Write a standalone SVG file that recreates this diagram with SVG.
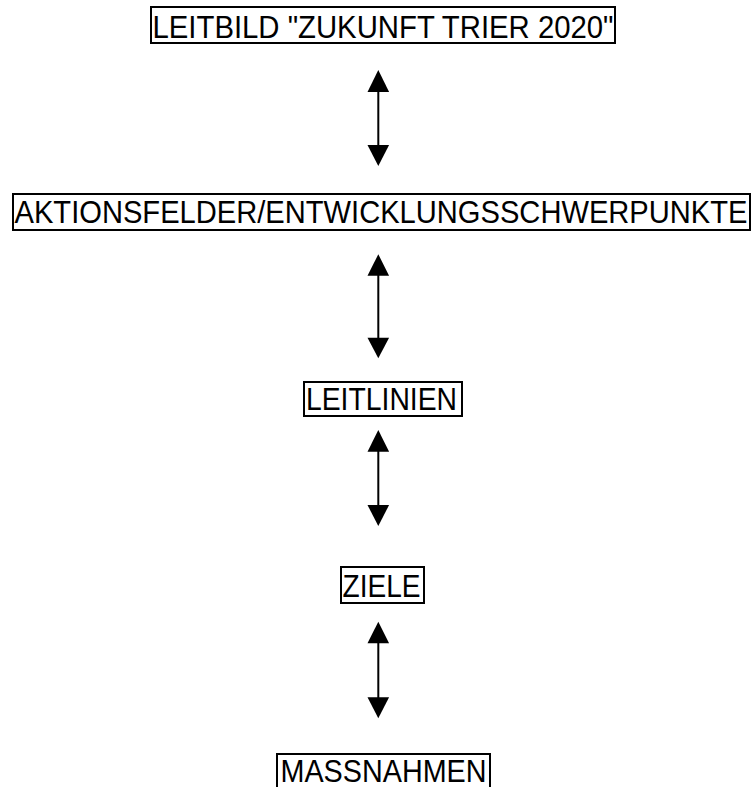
<svg xmlns="http://www.w3.org/2000/svg" width="752" height="787" viewBox="0 0 752 787">
<style>
.box{fill:#fff;stroke:#000;stroke-width:2}
.t{font-family:"Liberation Sans",Arial,sans-serif;font-size:32px;fill:#000}
.ln{stroke:#000;stroke-width:2;fill:none}
.hd{fill:#000}
</style>
<rect width="752" height="787" fill="#fff"/>
<g id="leitbild">
<rect class="box" x="151" y="7" width="464" height="36"/>
<text class="t" x="152.5" y="37.5" textLength="461" lengthAdjust="spacingAndGlyphs">LEITBILD "ZUKUNFT TRIER 2020"</text>
</g>
<g id="aktionsfelder">
<rect class="box" x="13" y="194" width="737" height="36"/>
<text class="t" x="14.5" y="223" textLength="733" lengthAdjust="spacingAndGlyphs">AKTIONSFELDER/ENTWICKLUNGSSCHWERPUNKTE</text>
</g>
<g id="leitlinien">
<rect class="box" x="304" y="382" width="158" height="34"/>
<text class="t" x="306" y="410" textLength="151" lengthAdjust="spacingAndGlyphs">LEITLINIEN</text>
</g>
<g id="ziele">
<rect class="box" x="341" y="567" width="83" height="36"/>
<text class="t" x="342.5" y="597" textLength="78" lengthAdjust="spacingAndGlyphs">ZIELE</text>
</g>
<g id="massnahmen">
<rect class="box" x="277" y="754" width="213" height="40"/>
<text class="t" x="280.5" y="782" textLength="206" lengthAdjust="spacingAndGlyphs">MASSNAHMEN</text>
</g>
<g id="connectors">
<line class="ln" x1="378.3" y1="90" x2="378.3" y2="147"/>
<polygon class="hd" points="378.3,70 367.5,92 389.1,92"/>
<polygon class="hd" points="378.3,166 367.5,145 389.1,145"/>
<line class="ln" x1="378.3" y1="274" x2="378.3" y2="340"/>
<polygon class="hd" points="378.3,254.3 367.5,275.7 389.1,275.7"/>
<polygon class="hd" points="378.3,358.3 367.5,337.7 389.1,337.7"/>
<line class="ln" x1="378.3" y1="450" x2="378.3" y2="507"/>
<polygon class="hd" points="378.3,430 367.5,451.7 389.1,451.7"/>
<polygon class="hd" points="378.3,526 367.5,505 389.1,505"/>
<line class="ln" x1="378.3" y1="641" x2="378.3" y2="699"/>
<polygon class="hd" points="378.3,621.7 367.5,643.3 389.1,643.3"/>
<polygon class="hd" points="378.3,718.3 367.5,697.3 389.1,697.3"/>
</g>
</svg>
